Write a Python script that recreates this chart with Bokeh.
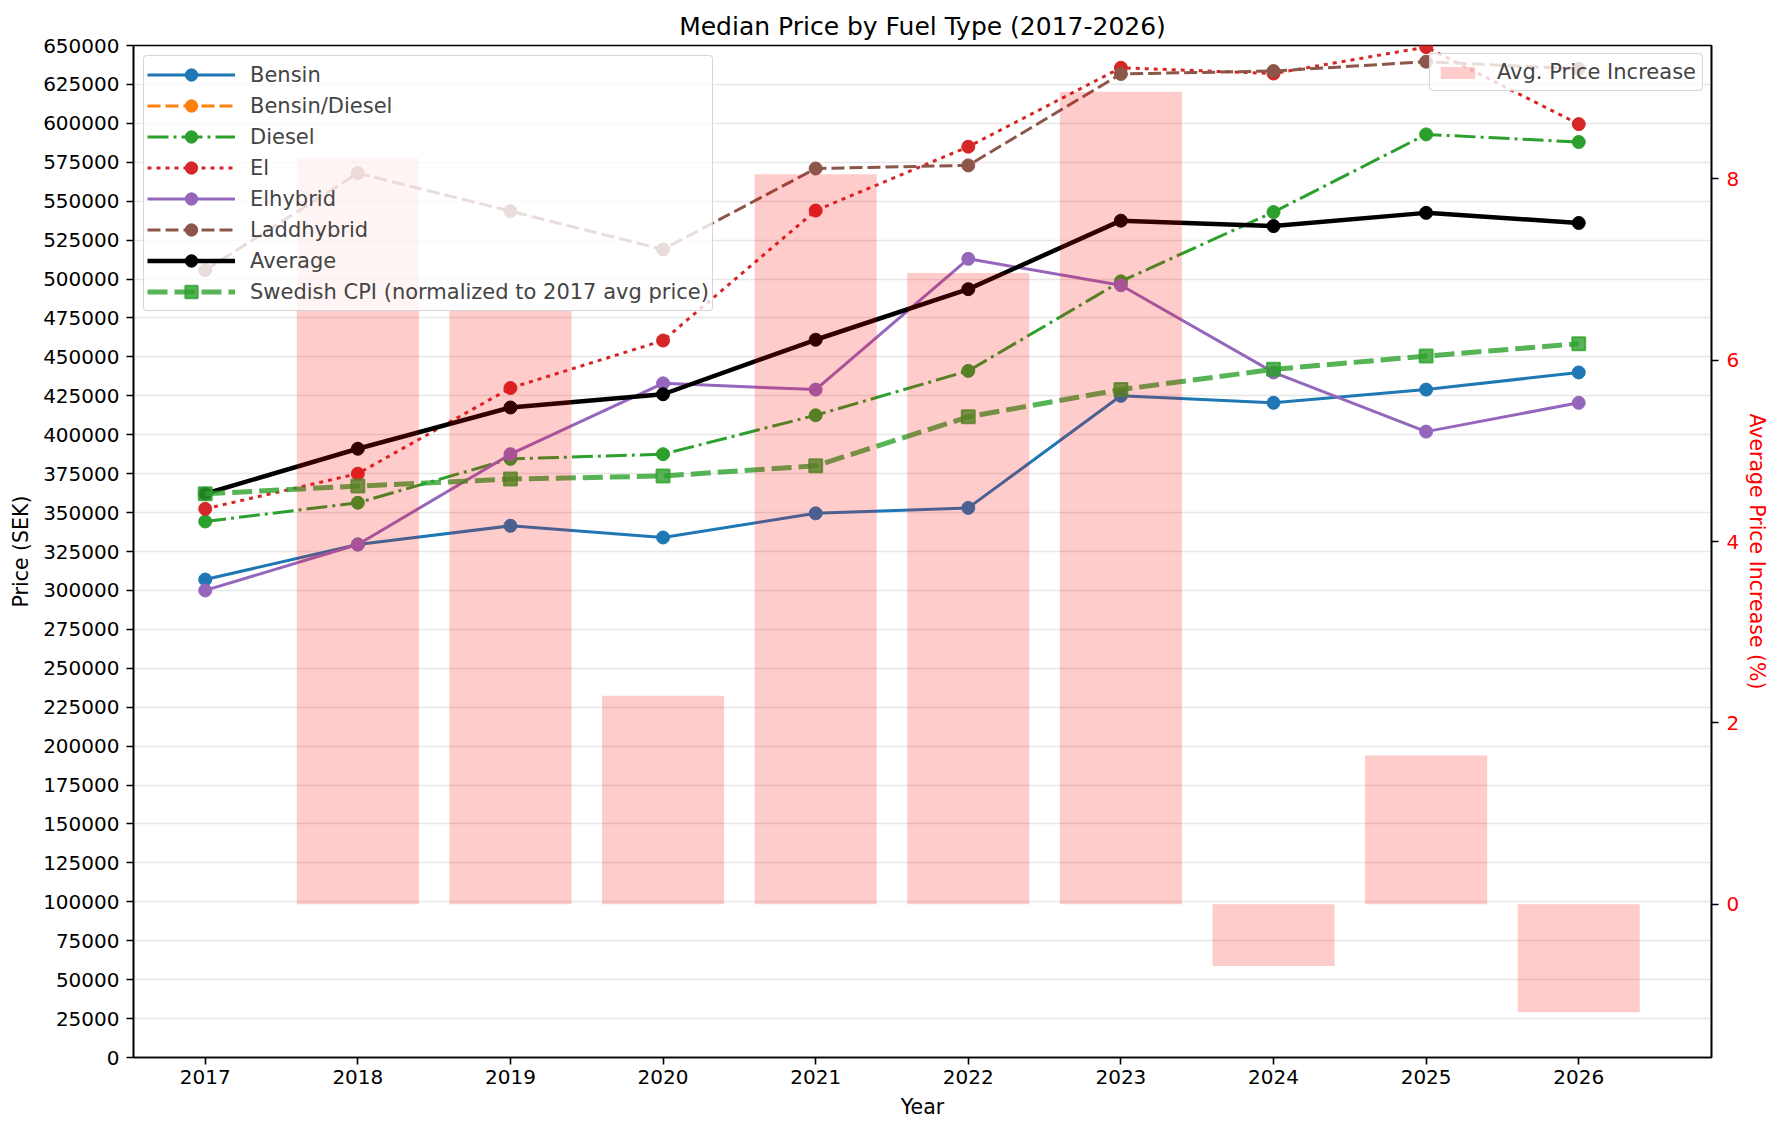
import math
from bokeh.plotting import figure
from bokeh.models import (Range1d, LinearAxis, FixedTicker, BasicTickFormatter,
                          Legend, LegendItem)
from bokeh.embed import file_html
from bokeh.resources import INLINE

# ---------------- data ----------------
years = [2017, 2018, 2019, 2020, 2021, 2022, 2023, 2024, 2025, 2026]
bensin = [307000, 329500, 341500, 334000, 349500, 353000, 425000, 420500, 429000, 440000]
bensin_diesel = [math.nan] * 10
diesel = [344300, 356300, 384500, 387500, 412500, 441000, 498500, 543000, 592900, 588000]
el = [352400, 375000, 430000, 460500, 544000, 585000, 635700, 632000, 649000, 599500]
elhybrid = [300000, 329500, 387500, 433000, 429000, 513000, 496000, 440000, 402000, 420500]
laddhybrid = [505700, 568000, 543600, 519000, 571000, 573000, 631700, 633600, 639600, 635000]
average = [362100, 391000, 417500, 426000, 461000, 493500, 537500, 534000, 542500, 536000]
cpi = [362100, 367000, 371500, 373500, 380000, 411500, 429000, 442000, 450500, 458500]
bar_years = [2018, 2019, 2020, 2021, 2022, 2023, 2024, 2025, 2026]
pct_increase = [8.23, 6.55, 2.30, 8.05, 6.96, 8.96, -0.68, 1.64, -1.19]

price_ticks = list(range(0, 650001, 25000))
pct_ticks = [0, 2, 4, 6, 8]

FONT = "DejaVu Sans"
TICK_FS = "20px"
LEG_FS = "21px"

p = figure(width=1772, height=1124, output_backend="svg", toolbar_location=None,
           x_range=Range1d(2016.53, 2026.87), y_range=Range1d(0, 650000),
           min_border_left=133, min_border_right=58, min_border_top=45,
           min_border_bottom=67, title="Median Price by Fuel Type (2017-2026)")
p.extra_y_ranges = {"pct": Range1d(-1.69, 9.47)}

p.background_fill_color = "white"
p.border_fill_color = "white"
p.outline_line_color = "black"
p.outline_line_width = 1.6

p.title.text_font = FONT
p.title.text_font_size = "25px"
p.title.text_font_style = "normal"
p.title.align = "center"
p.title.text_color = "black"

p.xgrid.visible = False
p.ygrid.grid_line_color = "#b0b0b0"
p.ygrid.grid_line_alpha = 0.3
p.ygrid.grid_line_width = 1.6
p.ygrid.ticker = FixedTicker(ticks=price_ticks)

# axes
p.xaxis.ticker = FixedTicker(ticks=years)
p.xaxis.formatter = BasicTickFormatter(use_scientific=False)
p.xaxis.axis_label = "Year"
p.yaxis.ticker = FixedTicker(ticks=price_ticks)
p.yaxis.formatter = BasicTickFormatter(use_scientific=False)
p.yaxis.axis_label = "Price (SEK)"

right = LinearAxis(y_range_name="pct", ticker=FixedTicker(ticks=pct_ticks),
                   axis_label="Average Price Increase (%)")
p.add_layout(right, "right")

for ax in [p.xaxis[0], p.yaxis[0], right]:
    ax.axis_line_color = "black"
    ax.axis_line_width = 1.6
    ax.major_tick_line_color = "black"
    ax.major_tick_line_width = 1.6
    ax.major_tick_in = 0
    ax.major_tick_out = 7
    ax.minor_tick_line_color = None
    ax.major_label_text_font = FONT
    ax.major_label_text_font_size = TICK_FS
    ax.major_label_text_color = "black"
    ax.axis_label_text_font = FONT
    ax.axis_label_text_font_size = "20.5px"
    ax.axis_label_text_font_style = "normal"
    ax.axis_label_text_color = "black"

p.xaxis.major_label_standoff = 5
p.xaxis.axis_label_standoff = 8
p.yaxis.major_label_standoff = 7
p.yaxis.axis_label_standoff = 7
right.major_label_standoff = 8
right.axis_label_standoff = 3
right.major_label_text_color = "red"
right.axis_label_text_color = "red"

# ---------------- lines ----------------
series = [
    ("Bensin", bensin, "#1f77b4", "solid", 3),
    ("Bensin/Diesel", bensin_diesel, "#ff7f0e", "13 5", 3),
    ("Diesel", diesel, "#2ca02c", "21 5 3 5", 3),
    ("El", el, "#d62728", "4 5", 3),
    ("Elhybrid", elhybrid, "#9467bd", "solid", 3),
    ("Laddhybrid", laddhybrid, "#8c564b", "13 5", 3),
]

items = []
for name, vals, color, dash, lw in series:
    lr = p.line(years, vals, line_color=color, line_width=lw, line_dash=dash)
    sr = p.scatter(years, vals, marker="circle", size=13, fill_color=color,
                   line_color=color, line_width=1)
    items.append(LegendItem(label=name, renderers=[lr, sr]))

lr = p.line(years, average, line_color="black", line_width=4.5)
sr = p.scatter(years, average, marker="circle", size=13, fill_color="black",
               line_color="black")
items.append(LegendItem(label="Average", renderers=[lr, sr]))

lr = p.line(years, cpi, line_color="#2ca02c", line_width=5, line_dash="20 7",
            line_alpha=0.8)
sr = p.scatter(years, cpi, marker="square", size=13, fill_color="#2ca02c",
               fill_alpha=0.8, line_color="#2ca02c", line_alpha=0.8, line_width=2)
items.append(LegendItem(label="Swedish CPI (normalized to 2017 avg price)",
                        renderers=[lr, sr]))

# primary legend: drawn above the lines but below the bars (like the twin axis)
legend1 = Legend(items=items, location="top_left", level="glyph")
legend1.margin = 10
legend1.padding = 3
legend1.spacing = 0
legend1.glyph_width = 88
legend1.glyph_height = 31
legend1.label_height = 20
legend1.label_standoff = 15
legend1.label_text_font = FONT
legend1.label_text_font_size = LEG_FS
legend1.label_text_baseline = "middle"
legend1.background_fill_color = "white"
legend1.background_fill_alpha = 0.8
legend1.border_line_color = "#cccccc"
legend1.border_line_width = 1.5
legend1.border_line_alpha = 0.8
p.renderers.append(legend1)

# ---------------- bars (secondary axis, drawn on top) ----------------
br = p.vbar(x=bar_years, top=pct_increase, bottom=0, width=0.8, y_range_name="pct",
            fill_color="red", fill_alpha=0.2, line_color=None)

legend2 = Legend(items=[LegendItem(label="Avg. Price Increase", renderers=[br])],
                 location="top_right")
legend2.margin = 8
legend2.padding = 6
legend2.glyph_width = 43
legend2.glyph_height = 15
legend2.label_height = 20
legend2.label_standoff = 18
legend2.label_text_font = FONT
legend2.label_text_font_size = LEG_FS
legend2.label_text_baseline = "middle"
legend2.background_fill_color = "white"
legend2.background_fill_alpha = 0.8
legend2.border_line_color = "#cccccc"
legend2.border_line_width = 1.5
legend2.border_line_alpha = 0.8
p.add_layout(legend2)

if "border_radius" in Legend.properties():
    legend1.border_radius = 4
    legend2.border_radius = 4

open("out.html", "w").write(file_html(p, INLINE))
